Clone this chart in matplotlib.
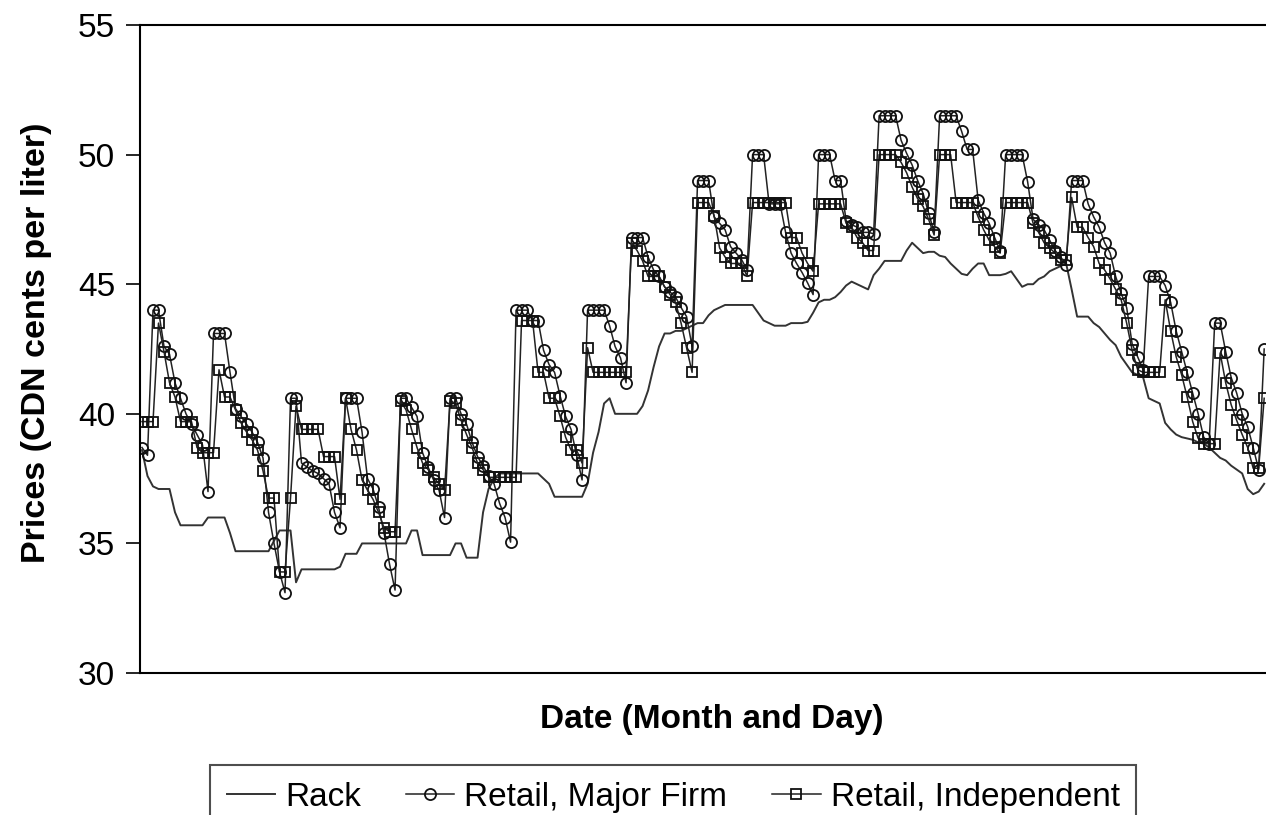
import numpy as np
import matplotlib
matplotlib.use("Agg")
import matplotlib.pyplot as plt

plt.rcParams["font.family"] = ["Liberation Sans", "DejaVu Sans"]

# ------------------ DATA (daily prices, CDN cents per liter) ------------------ #
rack = [
    38.6, 37.6, 37.2, 37.1, 37.1, 37.1, 36.2, 35.7, 35.7, 35.7,
    35.7, 35.7, 36.0, 36.0, 36.0, 36.0, 35.4, 34.7, 34.7, 34.7,
    34.7, 34.7, 34.7, 34.7, 35.1, 35.5, 35.5, 35.5, 33.5, 34.0,
    34.0, 34.0, 34.0, 34.0, 34.0, 34.0, 34.1, 34.6, 34.6, 34.6,
    35.0, 35.0, 35.0, 35.0, 35.0, 35.0, 35.0, 35.0, 35.0, 35.5,
    35.5, 34.55, 34.55, 34.55, 34.55, 34.55, 34.55, 35.0, 35.0, 34.45,
    34.45, 34.45, 36.2, 37.1, 37.5, 37.7, 37.7, 37.7, 37.7, 37.7,
    37.7, 37.7, 37.7, 37.5, 37.3, 36.8, 36.8, 36.8, 36.8, 36.8,
    36.8, 37.3, 38.5, 39.3, 40.4, 40.6, 40.0, 40.0, 40.0, 40.0,
    40.0, 40.3, 40.9, 41.8, 42.6, 43.1, 43.1, 43.2, 43.2, 43.3,
    43.4, 43.5, 43.5, 43.8, 44.0, 44.1, 44.2, 44.2, 44.2, 44.2,
    44.2, 44.2, 43.9, 43.6, 43.5, 43.4, 43.4, 43.4, 43.5, 43.5,
    43.5, 43.55, 43.9, 44.3, 44.4, 44.4, 44.5, 44.7, 44.95, 45.1,
    45.0, 44.9, 44.8, 45.35, 45.6, 45.9, 45.9, 45.9, 45.9, 46.3,
    46.6, 46.4, 46.2, 46.25, 46.25, 46.1, 46.05, 45.8, 45.6, 45.4,
    45.35, 45.6, 45.8, 45.8, 45.35, 45.35, 45.35, 45.4, 45.5, 45.2,
    44.9, 45.0, 45.0, 45.2, 45.3, 45.5, 45.6, 45.7, 45.8, 44.8,
    43.75, 43.75, 43.75, 43.5, 43.35, 43.1, 42.85, 42.65, 42.2, 41.9,
    41.6, 41.5, 41.4, 40.6, 40.5, 40.4, 39.65, 39.4, 39.2, 39.1,
    39.05, 39.0, 38.9, 38.85, 38.7, 38.5, 38.3, 38.2, 38.0, 37.85,
    37.7, 37.1, 36.9, 37.0, 37.3,
]

retail_major = [
    38.7, 38.4, 44.0, 44.0, 42.6, 42.3, 41.2, 40.6, 40.0, 39.6,
    39.2, 38.8, 37.0, 43.1, 43.1, 43.1, 41.6, 40.2, 39.9, 39.6,
    39.3, 38.9, 38.3, 36.2, 35.0, 33.9, 33.1, 40.6, 40.6, 38.1,
    37.95, 37.8, 37.7, 37.5, 37.3, 36.2, 35.6, 40.6, 40.6, 40.6,
    39.3, 37.5, 37.1, 36.4, 35.4, 34.2, 33.2, 40.6, 40.6, 40.25,
    39.9, 38.5, 37.95, 37.45, 37.05, 36.0, 40.6, 40.6, 40.0, 39.6,
    38.9, 38.35, 38.0, 37.6, 37.3, 36.55, 36.0, 35.05, 44.0, 44.0,
    44.0, 43.6, 43.6, 42.45, 41.9, 41.6, 40.7, 39.9, 39.4, 38.4,
    37.45, 44.0, 44.0, 44.0, 44.0, 43.4, 42.6, 42.15, 41.2, 46.8,
    46.8, 46.8, 46.05, 45.55, 45.3, 44.9, 44.7, 44.5, 44.1, 43.75,
    42.6, 49.0, 49.0, 49.0, 47.6, 47.35, 47.1, 46.45, 46.2, 45.95,
    45.55, 50.0, 50.0, 50.0, 48.1, 48.1, 48.1, 47.0, 46.2, 45.8,
    45.45, 45.05, 44.6, 50.0, 50.0, 50.0, 49.0, 49.0, 47.45, 47.3,
    47.2, 47.0, 47.0, 46.95, 51.5, 51.5, 51.5, 51.5, 50.55, 50.05,
    49.6, 49.0, 48.5, 47.75, 47.0, 51.5, 51.5, 51.5, 51.5, 50.9,
    50.2, 50.2, 48.25, 47.75, 47.35, 46.8, 46.3, 50.0, 50.0, 50.0,
    50.0, 48.95, 47.5, 47.3, 47.1, 46.7, 46.3, 46.05, 45.75, 49.0,
    49.0, 49.0, 48.1, 47.6, 47.2, 46.6, 46.2, 45.3, 44.65, 44.1,
    42.7, 42.2, 41.7, 45.3, 45.3, 45.3, 44.95, 44.3, 43.2, 42.4,
    41.6, 40.8, 40.0, 39.1, 38.85, 43.5, 43.5, 42.4, 41.4, 40.8,
    40.0, 39.5, 38.7, 37.85, 42.5,
]

retail_independent = [
    39.7, 39.7, 39.7, 43.5, 42.4, 41.2, 40.65, 39.7, 39.7, 39.7,
    38.7, 38.5, 38.5, 38.5, 41.7, 40.65, 40.65, 40.15, 39.65, 39.3,
    39.0, 38.6, 37.8, 36.75, 36.75, 33.9, 33.9, 36.75, 40.3, 39.4,
    39.4, 39.4, 39.4, 38.35, 38.35, 38.35, 36.7, 40.6, 39.4, 38.6,
    37.45, 37.05, 36.7, 36.2, 35.6, 35.45, 35.45, 40.5, 40.15, 39.4,
    38.7, 38.1, 37.85, 37.55, 37.3, 37.05, 40.5, 40.4, 39.75, 39.2,
    38.7, 38.1, 37.85, 37.55, 37.55, 37.55, 37.55, 37.55, 37.55, 43.6,
    43.6, 43.6, 41.6, 41.6, 40.6, 40.6, 39.9, 39.1, 38.6, 38.6,
    38.1, 42.55, 41.6, 41.6, 41.6, 41.6, 41.6, 41.6, 41.6, 46.6,
    46.3, 45.9, 45.3, 45.3, 45.3, 44.9, 44.6, 44.3, 43.5, 42.55,
    41.6, 48.15, 48.15, 48.15, 47.65, 46.4, 46.05, 45.8, 45.8, 45.8,
    45.3, 48.15, 48.15, 48.15, 48.15, 48.15, 48.15, 48.15, 46.8, 46.8,
    46.2, 45.8, 45.5, 48.1, 48.1, 48.1, 48.1, 48.1, 47.35, 47.2,
    46.8, 46.6, 46.3, 46.3, 50.0, 50.0, 50.0, 50.0, 49.7, 49.3,
    48.75, 48.3, 48.0, 47.5, 46.9, 50.0, 50.0, 50.0, 48.15, 48.15,
    48.15, 48.15, 47.6, 47.1, 46.7, 46.45, 46.2, 48.15, 48.15, 48.15,
    48.15, 48.15, 47.35, 47.0, 46.6, 46.4, 46.2, 45.95, 45.95, 48.35,
    47.2, 47.2, 46.8, 46.45, 45.8, 45.55, 45.2, 44.8, 44.4, 43.5,
    42.45, 41.7, 41.6, 41.6, 41.6, 41.6, 44.4, 43.2, 42.2, 41.5,
    40.65, 39.7, 39.05, 38.85, 38.85, 38.85, 42.35, 41.2, 40.35, 39.75,
    39.2, 38.7, 37.9, 37.9, 40.6,
]

days = np.arange(len(rack))

# ------------------ PLOT ------------------ #
fig = plt.figure(figsize=(12.66, 8.15), dpi=100)
# the plot area runs a little past the right edge of the picture (cropped)
ax = fig.add_axes([0.1106, 0.1742, 0.9036, 0.7951])

ax.plot(days, rack, color="#333333", lw=1.4, label="Rack")
ax.plot(days, retail_major, color="#222222", lw=1.1, marker="o", ms=8,
        mfc="none", mec="#111111", mew=1.3, label="Retail, Major Firm")
ax.plot(days, retail_independent, color="#222222", lw=1.1, marker="s", ms=7,
        mfc="none", mec="#111111", mew=1.3, label="Retail, Independent")

ax.set_ylim(30, 55)
ax.set_xlim(-0.36, len(rack) + 2.6)
ax.set_yticks([30, 35, 40, 45, 50, 55])
ax.tick_params(axis="y", labelsize=24, length=10, width=1.2, direction="out", pad=8)
ax.set_xticks([])
ax.spines["right"].set_visible(False)
for s in ["left", "top", "bottom"]:
    ax.spines[s].set_linewidth(1.5)

ax.set_ylabel("Prices (CDN cents per liter)", fontsize=24.5, fontweight="bold")
ax.yaxis.set_label_coords(-0.077, 0.51)
ax.set_xlabel("Date (Month and Day)", fontsize=24, fontweight="bold", labelpad=22)

leg = fig.legend(loc="upper left", bbox_to_anchor=(210 / 1266, 1 - 765 / 815), ncol=3,
                 fontsize=24, frameon=True, fancybox=False, edgecolor="#222222",
                 handlelength=1.45, handletextpad=0.3, columnspacing=1.35,
                 borderpad=0.5, borderaxespad=0)
leg.get_frame().set_linewidth(1.5)

fig.savefig("out.png", dpi=100)
